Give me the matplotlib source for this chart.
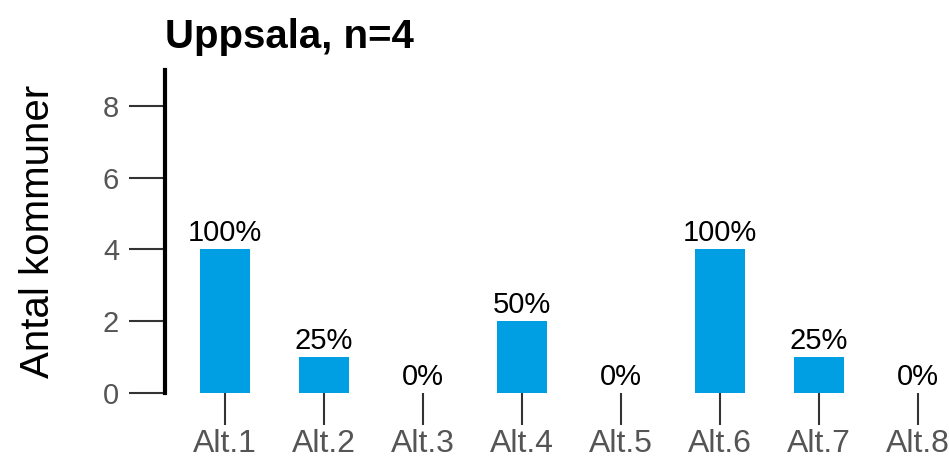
import matplotlib.pyplot as plt

plt.rcParams['font.family'] = ['Liberation Sans', 'DejaVu Sans']

categories = ['Alt.1', 'Alt.2', 'Alt.3', 'Alt.4', 'Alt.5', 'Alt.6', 'Alt.7', 'Alt.8']
counts = [4, 1, 0, 2, 0, 4, 1, 0]
percent_labels = ['100%', '25%', '0%', '50%', '0%', '100%', '25%', '0%']
yticks = [0, 2, 4, 6, 8]
n_total = 4

fig = plt.figure(figsize=(9.49, 4.63), dpi=100)
ax = fig.add_axes([165 / 949, 70 / 463, 784 / 949, 323 / 463])

x = list(range(1, len(categories) + 1))
bars = ax.bar(x, counts, width=0.5, color='#009FE3')

for xi, c, lab in zip(x, counts, percent_labels):
    ax.annotate(lab, (xi, c), xytext=(0, 1.5), textcoords='offset points',
                ha='center', va='bottom', fontsize=21, color='black')

ax.set_xlim(0.394, 8.314)
ax.set_ylim(0, 9)
ax.set_xticks(x)
ax.set_xticklabels(categories)
ax.set_yticks(yticks)

for side in ['top', 'right', 'bottom']:
    ax.spines[side].set_visible(False)
ax.spines['left'].set_linewidth(3)
ax.spines['left'].set_color('black')

ax.tick_params(axis='x', length=23, width=1.5, color='#333333', pad=3,
               labelsize=23, labelcolor='#555555')
ax.tick_params(axis='y', length=26, width=1.5, color='#333333', pad=7,
               labelsize=21, labelcolor='#555555')

ax.set_ylabel('Antal kommuner', fontsize=29, color='black', labelpad=33)
ax.set_title(f'Uppsala, n={n_total}', loc='left', fontsize=29,
             fontweight='bold', pad=16)

fig.savefig('out.png', dpi=100)
